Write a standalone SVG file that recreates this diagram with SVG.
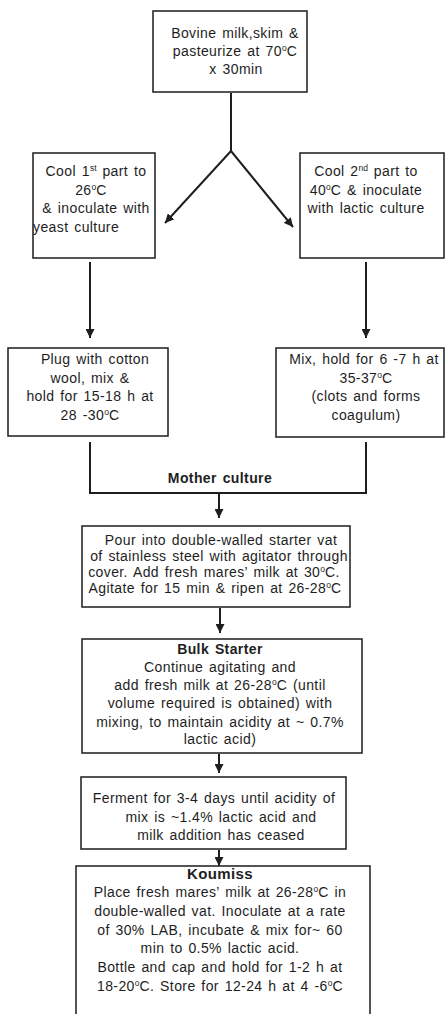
<svg xmlns="http://www.w3.org/2000/svg" width="445" height="1014" viewBox="0 0 445 1014">
<defs>
<style>
.box{fill:#fff;stroke:#2a2a2a;stroke-width:1.6}
.t{font-family:"Liberation Sans",Arial,sans-serif;font-size:14px;fill:#1e1e1e;text-anchor:middle;letter-spacing:0.4px;word-spacing:1.5px}
.b{font-weight:bold}
.k{font-size:15px}
.sup{font-size:8.5px;baseline-shift:super;letter-spacing:0}
.ln{fill:none;stroke:#1e1e1e;stroke-width:2}
</style>
<marker id="ah" viewBox="0 0 10 10" refX="10" refY="5" markerWidth="4.5" markerHeight="4.5" orient="auto" markerUnits="strokeWidth">
<path d="M0,0 L10,5 L0,10 z" fill="#1e1e1e"/>
</marker>
</defs>
<rect width="445" height="1014" fill="#fff"/>
<g id="connectors">
<path class="ln" d="M231,93 V151"/>
<path class="ln" d="M231,151 L165,223" marker-end="url(#ah)"/>
<path class="ln" d="M231,151 L293,227" marker-end="url(#ah)"/>
<path class="ln" d="M90,262 V338" marker-end="url(#ah)"/>
<path class="ln" d="M366,262 V338" marker-end="url(#ah)"/>
<path class="ln" d="M90,442 V493 H366 V442"/>
<path class="ln" d="M219,493 V518" marker-end="url(#ah)"/>
<path class="ln" d="M220,608 V633" marker-end="url(#ah)"/>
<path class="ln" d="M219,754 V773" marker-end="url(#ah)"/>
<path class="ln" d="M219,850 V866" marker-end="url(#ah)"/>
</g>
<g id="n1">
<rect class="box" x="153" y="11" width="154" height="81"/>
<text class="t" x="235" y="38">Bovine milk,skim &amp;</text>
<text class="t" x="235" y="56">pasteurize at 70<tspan class="sup">o</tspan>C</text>
<text class="t" x="236" y="74">x 30min</text>
</g>
<g id="n2">
<rect class="box" x="33" y="153" width="122" height="105"/>
<text class="t" x="96" y="176">Cool 1<tspan class="sup">st</tspan> part to</text>
<text class="t" x="91" y="195">26<tspan class="sup">o</tspan>C</text>
<text class="t" x="96" y="213">&amp; inoculate with</text>
<text class="t" x="33" y="232" style="text-anchor:start">yeast culture</text>
</g>
<g id="n3">
<rect class="box" x="300" y="153" width="144" height="105"/>
<text class="t" x="366" y="176">Cool 2<tspan class="sup">nd</tspan> part to</text>
<text class="t" x="366" y="195">40<tspan class="sup">o</tspan>C &amp; inoculate</text>
<text class="t" x="366" y="213">with lactic culture</text>
</g>
<g id="n4">
<rect class="box" x="8" y="348" width="160" height="88"/>
<text class="t" x="95" y="364">Plug with cotton</text>
<text class="t" x="90" y="383">wool, mix &amp;</text>
<text class="t" x="90" y="401">hold for 15-18 h at</text>
<text class="t" x="90" y="420">28 -30<tspan class="sup">o</tspan>C</text>
</g>
<g id="n5">
<rect class="box" x="276" y="348" width="168" height="89"/>
<text class="t" x="364" y="364">Mix, hold for 6 -7 h at</text>
<text class="t" x="366" y="383">35-37<tspan class="sup">o</tspan>C</text>
<text class="t" x="366" y="401">(clots and forms</text>
<text class="t" x="366" y="420">coagulum)</text>
</g>
<g id="mother">
<text class="t b" x="220" y="483">Mother culture</text>
</g>
<g id="n6">
<rect class="box" x="82" y="526" width="268" height="81"/>
<text class="t" x="221" y="545">Pour into double-walled starter vat</text>
<text class="t" x="219" y="561">of stainless steel with agitator through</text>
<text class="t" x="214" y="577">cover. Add fresh mares’ milk at 30<tspan class="sup">o</tspan>C.</text>
<text class="t" x="215" y="593">Agitate for 15 min &amp; ripen at 26-28<tspan class="sup">o</tspan>C</text>
</g>
<g id="n7">
<rect class="box" x="82" y="639" width="280" height="114"/>
<text class="t b" x="220" y="654">Bulk Starter</text>
<text class="t" x="220" y="672">Continue agitating and</text>
<text class="t" x="220" y="690">add fresh milk at 26-28<tspan class="sup">o</tspan>C (until</text>
<text class="t" x="220" y="708">volume required is obtained) with</text>
<text class="t" x="220" y="727">mixing, to maintain acidity at ~ 0.7%</text>
<text class="t" x="220" y="744">lactic acid)</text>
</g>
<g id="n8">
<rect class="box" x="81" y="777" width="265" height="72"/>
<text class="t" x="214" y="803">Ferment for 3-4 days until acidity of</text>
<text class="t" x="221" y="822">mix is ~1.4% lactic acid and</text>
<text class="t" x="221" y="840">milk addition has ceased</text>
</g>
<g id="n9">
<rect class="box" x="76" y="866" width="294" height="160"/>
<text class="t b k" x="220" y="879">Koumiss</text>
<text class="t" x="220" y="897">Place fresh mares’ milk at 26-28<tspan class="sup">o</tspan>C in</text>
<text class="t" x="220" y="916">double-walled vat. Inoculate at a rate</text>
<text class="t" x="220" y="935">of 30% LAB, incubate &amp; mix for~ 60</text>
<text class="t" x="220" y="953">min to 0.5% lactic acid.</text>
<text class="t" x="220" y="972">Bottle and cap and hold for 1-2 h at</text>
<text class="t" x="220" y="991">18-20<tspan class="sup">o</tspan>C. Store for 12-24 h at 4 -6<tspan class="sup">o</tspan>C</text>
</g>
</svg>
